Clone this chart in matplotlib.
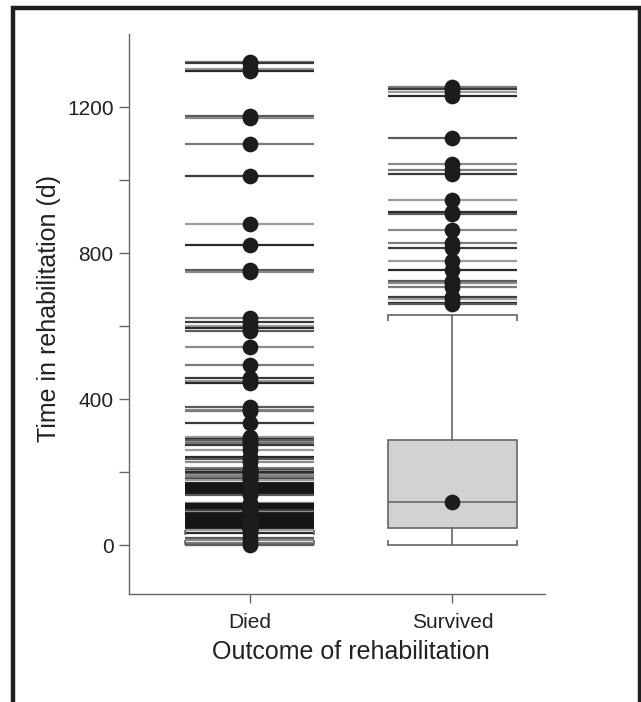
import matplotlib.pyplot as plt
from matplotlib.patches import Rectangle

plt.rcParams['font.family'] = ['Liberation Sans', 'DejaVu Sans']

# Outcome groups and their x positions
groups = ['Died', 'Survived']
positions = [1, 2]

# Died: every observation shows as a line with a dot (days)
died_days = [1325, 1320, 1305, 1300, 1175, 1170, 1099, 1012, 879, 823, 755, 750,
             623, 612, 601, 596, 588, 544, 495, 459, 450, 445, 378, 372, 367, 334,
             296, 292, 288, 284, 280, 276, 261, 241, 238, 229, 212, 208, 204, 200,
             196, 193, 187, 183, 179, 171, 168, 165, 162, 159, 157, 155, 152, 150,
             147, 145, 143, 140, 138, 116, 113, 111, 108, 106, 103, 101, 98, 96, 92,
             88, 86, 84, 82, 80, 78, 76, 74, 72, 70, 68, 66, 64, 62, 60, 58, 56, 54,
             52, 50, 48, 46, 44, 42, 34, 20, 14, 8, 1]
died_cap_lo = 0
died_cap_hi = 43

# Survived: box summary plus outliers (days)
surv_q1 = 49
surv_median = 119
surv_q3 = 289
surv_whislo = 0
surv_whishi = 631
surv_outliers = [1256, 1250, 1241, 1232, 1117, 1045, 1027, 1016, 945, 912, 907,
                 864, 829, 814, 779, 753, 725, 720, 709, 680, 675, 665, 661]

yticks = [0, 200, 400, 600, 800, 1000, 1200]
ytick_labels = ['0', '', '400', '', '800', '', '1200']

fig = plt.figure(figsize=(6.41, 7.02), dpi=100)
ax = fig.add_axes([0.201, 0.1538, 0.649, 0.7975])

box_w = 0.636
line_grays = ['#7a7a7a', '#3a3a3a', '#9a9a9a', '#2a2a2a', '#5a5a5a', '#8a8a8a']
dot_color = '#1c1c1e'
edge = '#666666'


def draw_lines(pos, vals):
    cols = []
    for i, v in enumerate(vals):
        # tightly packed observations merge into a solid black band
        close = sum(1 for u in vals if u != v and abs(u - v) <= 3)
        cols.append('#161616' if close >= 2 else line_grays[i % len(line_grays)])
    ax.hlines(vals, pos - box_w / 2, pos + box_w / 2, colors=cols, lw=1.6, zorder=2)
    ax.scatter([pos] * len(vals), vals, s=128, color=dot_color, lw=0, zorder=4)


def cap_ticks(pos, y, direction):
    tick = 15 * direction
    ax.vlines([pos - box_w / 2, pos + box_w / 2], y, y + tick, colors=edge, lw=1.2, zorder=3)


# Died group
draw_lines(positions[0], died_days)
ax.hlines([died_cap_lo], positions[0] - box_w / 2, positions[0] + box_w / 2, colors=edge, lw=1.2, zorder=3)
cap_ticks(positions[0], died_cap_lo, 1)
cap_ticks(positions[0], died_cap_hi, -1)

# Survived group
stats = [dict(med=surv_median, q1=surv_q1, q3=surv_q3,
              whislo=surv_whislo, whishi=surv_whishi, fliers=[])]
ax.bxp(stats, positions=[positions[1]], widths=box_w, capwidths=box_w,
       patch_artist=True, showfliers=False,
       boxprops=dict(facecolor='#d2d2d4', edgecolor=edge, lw=1.2),
       medianprops=dict(color=edge, lw=1.2),
       whiskerprops=dict(color=edge, lw=1.2),
       capprops=dict(color=edge, lw=1.2))
cap_ticks(positions[1], surv_whislo, 1)
cap_ticks(positions[1], surv_whishi, -1)
ax.scatter([positions[1]], [surv_median], s=128, color=dot_color, lw=0, zorder=4)
draw_lines(positions[1], surv_outliers)

ax.set_xlim(0.403, 2.456)
ax.set_ylim(-133, 1400)
ax.set_xticks(positions)
ax.set_xticklabels(groups)
ax.set_yticks(yticks)
ax.set_yticklabels(ytick_labels)

for side in ['top', 'right']:
    ax.spines[side].set_visible(False)
for side in ['left', 'bottom']:
    ax.spines[side].set_color(edge)
    ax.spines[side].set_linewidth(1.0)

ax.tick_params(axis='y', length=7.3, width=1.0, color=edge, pad=3.6, labelsize=15, labelcolor='#222222')
ax.tick_params(axis='x', length=6.5, width=1.0, color=edge, pad=7.0, labelsize=15, labelcolor='#222222')

ax.set_xlabel('Outcome of rehabilitation', fontsize=18, color='#222222')
ax.set_ylabel('Time in rehabilitation (d)', fontsize=18, color='#222222')
ax.xaxis.set_label_coords(0.534, -0.082)
ax.yaxis.set_label_coords(-0.162, 0.51)

# black frame around the figure (open at the bottom)
fig.add_artist(Rectangle((12.5 / 641, -0.1), (639.5 - 12.5) / 641, 0.1 + (702 - 8) / 702,
                         transform=fig.transFigure, fill=False, edgecolor='#1e1e1e',
                         lw=3.2, clip_on=False))

fig.savefig('out.png', dpi=100)
